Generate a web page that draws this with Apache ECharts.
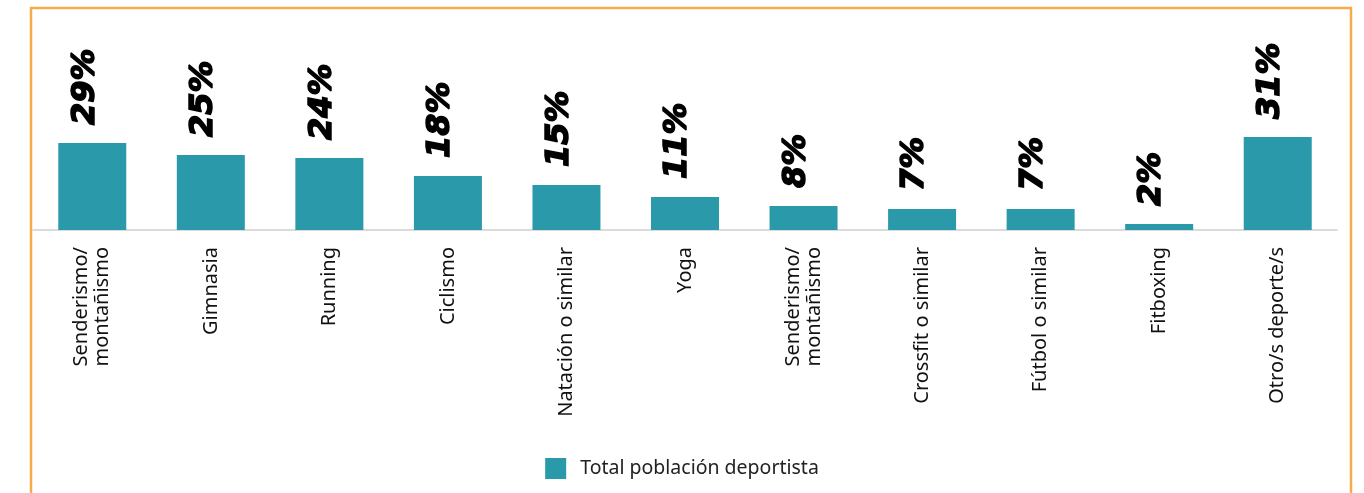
<!DOCTYPE html>
<html style="height: 100%">
<head>
<meta charset="utf-8">
<title>Deportes practicados</title>
<script src="https://cdn.jsdelivr.net/npm/echarts@6/dist/echarts.min.js"></script>
</head>
<body style="height: 100%; margin: 0; background: #ffffff">
<div id="main" style="width: 1364px; height: 493px"></div>
<script type="text/javascript">
// datos del grafico
var categorias = ['Senderismo/\nmontañismo', 'Gimnasia', 'Running', 'Ciclismo', 'Natación o similar',
  'Yoga', 'Senderismo/\nmontañismo', 'Crossfit o similar', 'Fútbol o similar', 'Fitboxing', 'Otro/s deporte/s'];
var valores = [29, 25, 24, 18, 15, 11, 8, 7, 7, 2, 31];
var serieNombre = 'Total población deportista';

var myChart = echarts.init(document.getElementById('main'));

var option = {
  backgroundColor: '#ffffff',
  animation: false,
  graphic: [{
    type: 'rect',
    shape: { x: 31, y: 8, width: 1320, height: 520 },
    style: { fill: 'none', stroke: '#f7ab4c', lineWidth: 2.5 },
    silent: true
  }],
  legend: {
    data: [serieNombre],
    top: 453,
    left: 'center',
    icon: 'rect',
    itemWidth: 21,
    itemHeight: 21,
    itemGap: 12,
    textStyle: { fontFamily: 'Noto Sans', fontSize: 19.5, color: '#222222', padding: [0, 0, 0, 9] }
  },
  grid: { left: 33, right: 27, top: 110, bottom: 263, containLabel: false },
  xAxis: {
    type: 'category',
    data: categorias,
    axisLine: { show: true, lineStyle: { color: '#d0d0d0', width: 1.5 } },
    axisTick: { show: false },
    axisLabel: {
      interval: 0,
      rotate: 90,
      margin: 17,
      fontFamily: 'Noto Sans',
      fontSize: 20,
      lineHeight: 21,
      color: '#111111'
    }
  },
  yAxis: {
    type: 'value',
    min: 0,
    max: 40,
    show: false,
    splitLine: { show: false }
  },
  series: [{
    name: serieNombre,
    type: 'bar',
    data: valores,
    barWidth: 68,
    itemStyle: { color: '#2a99aa' },
    label: {
      show: true,
      position: 'top',
      distance: 18,
      rotate: 90,
      align: 'left',
      verticalAlign: 'middle',
      offset: [0, -7],
      formatter: '{c}%',
      fontFamily: 'DejaVu Sans',
      fontWeight: 'bold',
      fontStyle: 'italic',
      fontSize: 32,
      color: '#000000',
      textBorderColor: '#000000',
      textBorderWidth: 1.5
    }
  }]
};
myChart.setOption(option);
</script>
</body>
</html>
